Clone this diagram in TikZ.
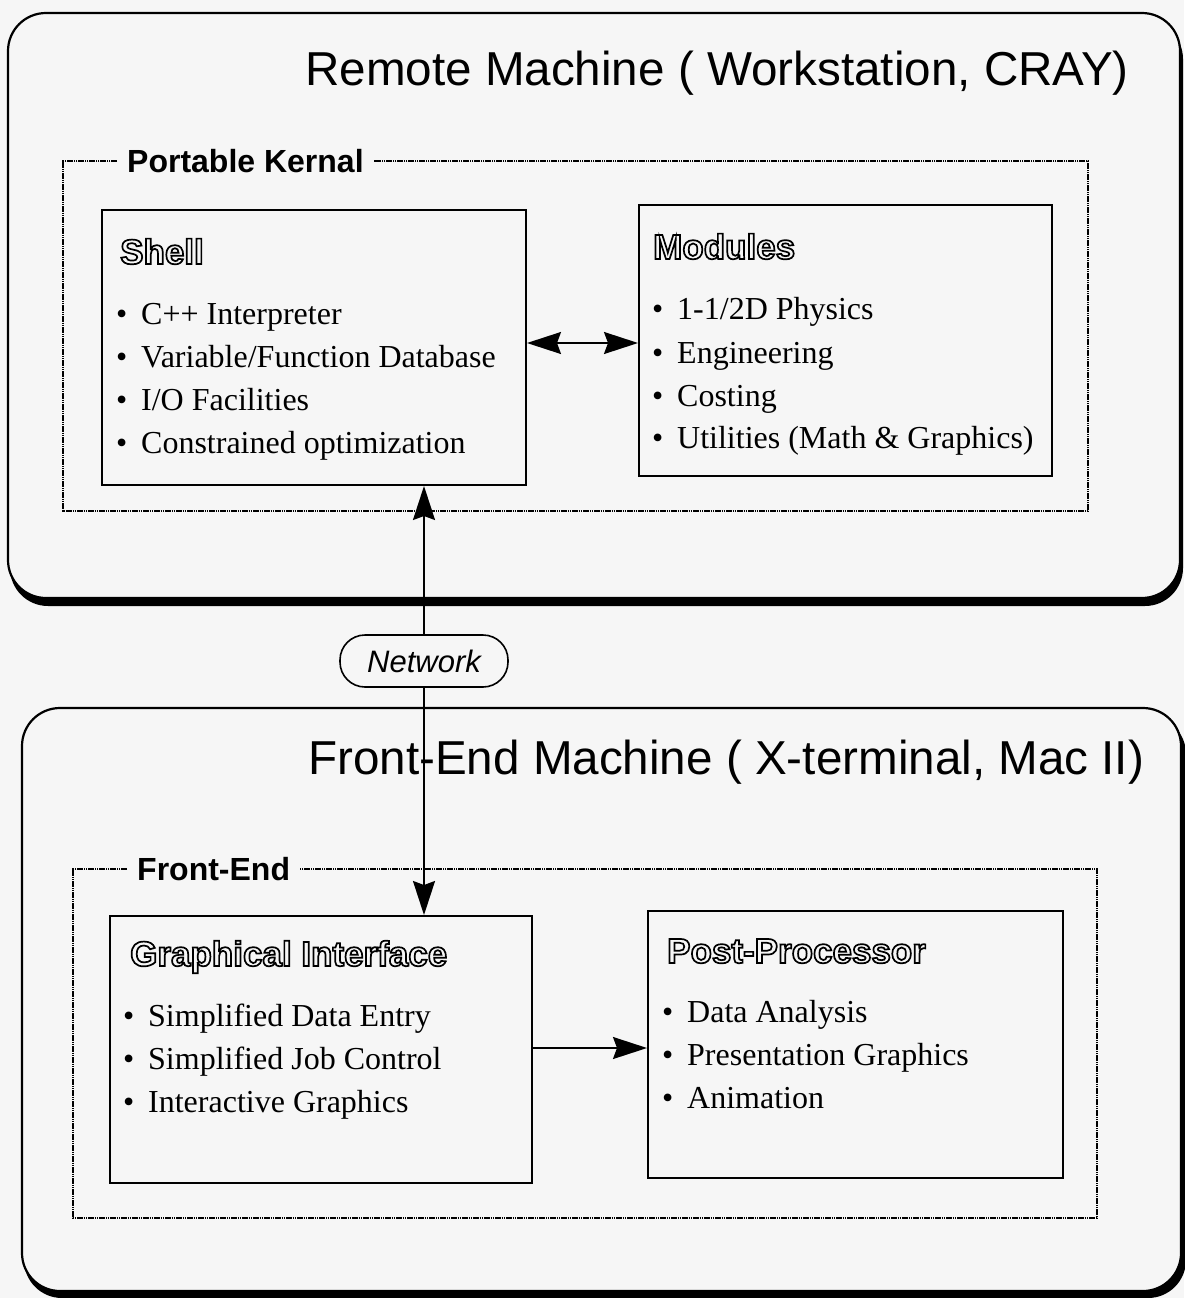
\documentclass[tikz,border=0pt]{standalone}
\usepackage{fontspec}
\setmainfont{Liberation Serif}
\setsansfont{Liberation Sans}
\usetikzlibrary{arrows.meta}
\definecolor{bg}{HTML}{F6F6F6}
\tikzset{
 outerbox/.style={draw=black, line width=2.2pt, fill=bg, rounded corners=38pt},
 shadowbox/.style={fill=black, rounded corners=38pt},
 framebox/.style={line width=2pt, dash pattern=on 1.6pt off 0.6pt},
 solidbox/.style={draw, line width=2pt, fill=bg, inner sep=0pt, anchor=north west},
 bigtitle/.style={font=\fontsize{47.6}{50}\selectfont\sffamily, anchor=base west, inner sep=0pt},
 framelabel/.style={font=\fontsize{32}{34}\selectfont\sffamily\bfseries, anchor=west, inner xsep=10pt, inner ysep=0pt, fill=bg},
 boxtitle/.style={font=\fontsize{35}{37}\selectfont\sffamily\bfseries, anchor=base west, inner sep=0pt},
 itemtext/.style={font=\fontsize{32}{34}\selectfont, anchor=base west, inner sep=0pt},
 tip/.tip={Stealth[length=34pt,width=22pt,inset=4pt]},
 arr/.style={line width=1.8pt, -tip},
 darr/.style={line width=1.8pt, tip-tip},
}
\newcommand{\hollow}[1]{\special{pdf:literal direct 1 Tr 1.7 w}#1\special{pdf:literal direct 0 Tr}}
\newcommand{\bul}[1]{\makebox[25pt][l]{\textbullet}#1}
\begin{document}
\begin{tikzpicture}[x=1pt,y=-1pt]
\useasboundingbox (0,0) rectangle (1184,1298);
\fill[bg] (0,0) rectangle (1184,1298);

% outer machine boxes
\fill[shadowbox] (10,21) rectangle (1183,606);
\draw[outerbox] (8,13) rectangle (1180,598);
\fill[shadowbox] (24,716) rectangle (1186,1298);
\draw[outerbox] (22,708) rectangle (1181,1291);

\node[bigtitle] (rtitle) at (305,85) {Remote Machine ( Workstation, CRAY)};
\node[bigtitle] (ftitle) at (308,774) {Front-End Machine ( X-terminal, Mac II)};

% dotted frames
\node[framelabel] (pk) at (117,161) {Portable Kernal};
\draw[framebox] (pk.west) -- (63,161) -- (63,511) -- (1088,511) -- (1088,161) -- (pk.east);
\node[framelabel] (fe) at (127,869) {Front-End};
\draw[framebox] (fe.west) -- (73,869) -- (73,1218) -- (1097,1218) -- (1097,869) -- (fe.east);

% inner boxes
\node[solidbox, minimum width=424pt, minimum height=275pt] (shell) at (101,209) {};
\node[solidbox, minimum width=413pt, minimum height=271pt] (modules) at (638,204) {};
\node[solidbox, minimum width=422pt, minimum height=267pt] (gi) at (109,915) {};
\node[solidbox, minimum width=415pt, minimum height=267pt] (pp) at (647,910) {};

% box titles
\node[boxtitle] (shellt) at (120,264) {\hollow{Shell}};
\node[boxtitle] (modt) at (653,259) {\hollow{Modules}};
\node[boxtitle] (git) at (130,966) {\hollow{Graphical Interface}};
\node[boxtitle] (ppt) at (667,963) {\hollow{Post-Processor}};

% items
\node[itemtext] (s1) at (116,324) {\bul{C++ Interpreter}};
\node[itemtext] (s2) at (116,367) {\bul{Variable/Function Database}};
\node[itemtext] (s3) at (116,410) {\bul{I/O Facilities}};
\node[itemtext] (s4) at (116,453) {\bul{Constrained optimization}};

\node[itemtext] (m1) at (652,319) {\bul{1-1/2D Physics}};
\node[itemtext] (m2) at (652,363) {\bul{Engineering}};
\node[itemtext] (m3) at (652,406) {\bul{Costing}};
\node[itemtext] (m4) at (652,448) {\bul{Utilities (Math \& Graphics)}};

\node[itemtext] (g1) at (123,1026) {\bul{Simplified Data Entry}};
\node[itemtext] (g2) at (123,1069) {\bul{Simplified Job Control}};
\node[itemtext] (g3) at (123,1112) {\bul{Interactive Graphics}};

\node[itemtext] (p1) at (662,1022) {\bul{Data Analysis}};
\node[itemtext] (p2) at (662,1065) {\bul{Presentation Graphics}};
\node[itemtext] (p3) at (662,1108) {\bul{Animation}};

% connectors
\coordinate (da) at (0,343);
\draw[darr] (shell.east |- da) -- (modules.west |- da);
\coordinate (gp) at (0,1048);
\draw[arr] (gi.east |- gp) -- (pp.west |- gp);

\node[draw, line width=1.6pt, fill=bg, rounded corners=25pt, minimum width=168pt, minimum height=52pt, inner sep=0pt, font=\fontsize{31}{33}\selectfont\sffamily\itshape] (net) at (424,661) {Network};
\draw[arr] (net.north) -- (net |- shell.south);
\draw[arr] (net.south) -- (net |- gi.north);
\end{tikzpicture}
\end{document}
